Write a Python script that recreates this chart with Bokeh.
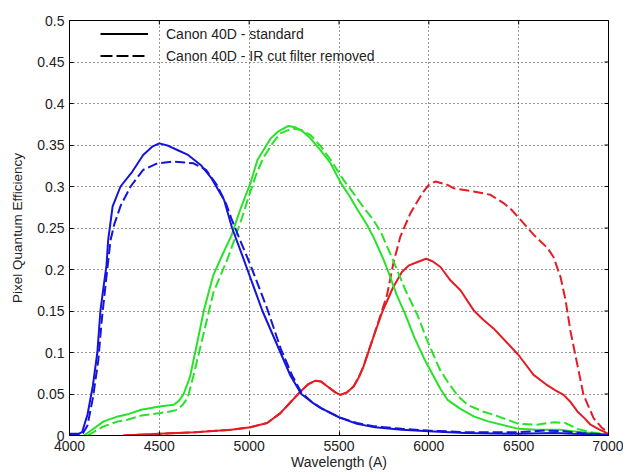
import math
from bokeh.plotting import figure
from bokeh.models import (FixedTicker, Legend, LegendItem, ColumnDataSource)
from bokeh.embed import file_html
from bokeh.resources import INLINE

# ---------------- data ----------------
x_ticks = [4000, 4500, 5000, 5500, 6000, 6500, 7000]
x_tick_labels = ["4000", "4500", "5000", "5500", "6000", "6500", "7000"]
y_ticks = [0, 0.05, 0.1, 0.15, 0.2, 0.25, 0.3, 0.35, 0.4, 0.45, 0.5]
y_tick_labels = ["0", "0.05", "0.1", "0.15", "0.2", "0.25", "0.3", "0.35", "0.4", "0.45", "0.5"]

legend_labels = ["Canon 40D - standard", "Canon 40D - IR cut filter removed"]
x_label = "Wavelength (A)"
y_label = "Pixel Quantum Efficiency"

blue_std_wl = [4000, 4050, 4070, 4100, 4130, 4155, 4172, 4190, 4206, 4215, 4240, 4284, 4350, 4410,
               4460, 4500, 4550, 4600, 4660, 4730, 4790, 4860, 4905, 4960, 4990, 5074, 5174, 5230,
               5290, 5350, 5400, 5500, 5600, 5700, 5850, 6000, 6200, 6500, 6700, 6800, 7000]
blue_std_qe = [0.002, 0.002, 0.004, 0.025, 0.06, 0.10, 0.15, 0.18, 0.205, 0.235, 0.276, 0.30, 0.318, 0.338,
               0.348, 0.352, 0.349, 0.344, 0.338, 0.326, 0.31, 0.284, 0.25, 0.218, 0.2, 0.15, 0.10, 0.072,
               0.05, 0.04, 0.033, 0.022, 0.014, 0.01, 0.007, 0.005, 0.003, 0.002, 0.003, 0.002, 0.001]

blue_ir_wl = [4000, 4070, 4100, 4130, 4160, 4180, 4200, 4228, 4250, 4285, 4340, 4410, 4490, 4580,
              4690, 4760, 4820, 4870, 4900, 4950, 5008, 5100, 5175, 5240, 5290, 5350, 5400, 5500,
              5600, 5700, 5850, 6000, 6200, 6500, 6650, 6750, 6850, 7000]
blue_ir_qe = [0.001, 0.001, 0.012, 0.045, 0.09, 0.14, 0.18, 0.235, 0.255, 0.277, 0.30, 0.32, 0.328, 0.33,
              0.328, 0.32, 0.302, 0.28, 0.262, 0.235, 0.205, 0.153, 0.105, 0.072, 0.052, 0.04, 0.033, 0.022,
              0.015, 0.011, 0.008, 0.006, 0.004, 0.004, 0.006, 0.005, 0.003, 0.001]

green_std_wl = [4080, 4120, 4190, 4270, 4330, 4400, 4500, 4580, 4610, 4635, 4670, 4712, 4746, 4800,
                4858, 4900, 4950, 5007, 5046, 5080, 5120, 5160, 5219, 5260, 5300, 5341, 5400, 5453,
                5508, 5560, 5603, 5650, 5692, 5748, 5775, 5820, 5865, 5920, 5980, 6030, 6065, 6104,
                6176, 6250, 6330, 6500, 6600, 6730, 6800, 6900, 7000]
green_std_qe = [0.0, 0.006, 0.017, 0.023, 0.026, 0.031, 0.035, 0.037, 0.042, 0.05, 0.07, 0.113, 0.149, 0.193,
                0.221, 0.24, 0.272, 0.304, 0.332, 0.344, 0.358, 0.366, 0.373, 0.371, 0.366, 0.358, 0.343, 0.328,
                0.305, 0.288, 0.272, 0.256, 0.239, 0.212, 0.197, 0.17, 0.148, 0.118, 0.09, 0.07, 0.056, 0.043,
                0.032, 0.023, 0.017, 0.008, 0.007, 0.007, 0.005, 0.003, 0.001]

green_ir_wl = [4100, 4190, 4270, 4322, 4400, 4506, 4560, 4601, 4630, 4657, 4690, 4740, 4802, 4880,
               4913, 4960, 4996, 5040, 5080, 5130, 5174, 5241, 5290, 5341, 5400, 5460, 5525, 5580,
               5636, 5690, 5731, 5803, 5870, 5937, 5990, 6026, 6060, 6104, 6160, 6215, 6300, 6360,
               6500, 6600, 6700, 6760, 6827, 6900, 7000]
green_ir_qe = [0.0, 0.011, 0.017, 0.019, 0.024, 0.027, 0.029, 0.031, 0.037, 0.045, 0.072, 0.117, 0.173, 0.213,
               0.233, 0.262, 0.287, 0.315, 0.335, 0.352, 0.364, 0.370, 0.368, 0.362, 0.348, 0.33, 0.308, 0.292,
               0.275, 0.26, 0.246, 0.21, 0.175, 0.145, 0.115, 0.097, 0.08, 0.065, 0.048, 0.037, 0.029, 0.025,
               0.014, 0.013, 0.016, 0.015, 0.008, 0.004, 0.001]

red_std_wl = [4300, 4500, 4700, 4900, 5007, 5100, 5174, 5230, 5286, 5330, 5369, 5400, 5436, 5480,
              5508, 5545, 5581, 5610, 5636, 5692, 5743, 5800, 5850, 5890, 5937, 5985, 6020, 6065,
              6120, 6176, 6249, 6300, 6360, 6430, 6499, 6583, 6650, 6700, 6750, 6790, 6827, 6870,
              6900, 6950, 7000]
red_std_qe = [0.0, 0.002, 0.004, 0.007, 0.01, 0.015, 0.027, 0.04, 0.053, 0.062, 0.066, 0.065, 0.059, 0.052,
              0.049, 0.052, 0.059, 0.07, 0.083, 0.119, 0.15, 0.178, 0.197, 0.205, 0.209, 0.213, 0.21, 0.203,
              0.187, 0.175, 0.151, 0.14, 0.129, 0.113, 0.097, 0.073, 0.062, 0.055, 0.049, 0.04, 0.029, 0.02,
              0.013, 0.007, 0.002]

red_ir_wl = [4300, 4500, 4700, 4900, 5007, 5100, 5174, 5230, 5286, 5330, 5369, 5400, 5436, 5480,
             5508, 5545, 5581, 5610, 5636, 5692, 5731, 5768, 5803, 5842, 5898, 5964, 6000, 6037,
             6104, 6137, 6249, 6343, 6416, 6460, 6510, 6583, 6660, 6694, 6733, 6761, 6789, 6827,
             6861, 6917, 6960, 7000]
red_ir_qe = [0.0, 0.002, 0.004, 0.007, 0.01, 0.015, 0.027, 0.04, 0.053, 0.062, 0.066, 0.065, 0.059, 0.052,
             0.049, 0.052, 0.059, 0.07, 0.083, 0.119, 0.145, 0.17, 0.208, 0.24, 0.268, 0.292, 0.302, 0.306,
             0.302, 0.298, 0.294, 0.29, 0.28, 0.272, 0.26, 0.242, 0.226, 0.215, 0.191, 0.163, 0.125, 0.085,
             0.049, 0.021, 0.01, 0.003]

# ---------------- figure ----------------
FONT = "Liberation Sans"
TXT = "#222222"
X_RANGE = (x_ticks[0], x_ticks[-1])
Y_RANGE = (y_ticks[0], y_ticks[-1])

p = figure(width=623, height=472, x_range=X_RANGE, y_range=Y_RANGE,
           output_backend="svg", toolbar_location=None,
           min_border_left=69, min_border_right=15, min_border_top=20, min_border_bottom=36)
p.background_fill_color = "white"
p.border_fill_color = "white"
p.outline_line_color = "black"
p.outline_line_width = 1

xt = FixedTicker(ticks=x_ticks)
yt = FixedTicker(ticks=y_ticks)

for ax in (p.xaxis[0], p.yaxis[0]):
    ax.major_tick_in = 4
    ax.major_tick_out = 0
    ax.minor_tick_line_color = None
    ax.axis_line_color = "black"
    ax.major_tick_line_color = "black"
    ax.major_label_text_font = FONT
    ax.major_label_text_font_size = "14px"
    ax.major_label_text_color = TXT
    ax.axis_label_text_font = FONT
    ax.axis_label_text_font_style = "normal"
    ax.axis_label_text_color = TXT

p.xaxis[0].ticker = xt
p.yaxis[0].ticker = yt
p.xaxis[0].major_label_overrides = dict(zip(x_ticks, x_tick_labels))
p.yaxis[0].major_label_overrides = dict(zip(y_ticks, y_tick_labels))
p.xaxis[0].axis_label = x_label
p.yaxis[0].axis_label = y_label
p.xaxis[0].axis_label_text_font_size = "14px"
p.yaxis[0].axis_label_text_font_size = "13.5px"
p.xaxis[0].major_label_standoff = 5
p.xaxis[0].axis_label_standoff = 0
p.yaxis[0].major_label_standoff = 5
p.yaxis[0].axis_label_standoff = 9

p.xgrid.ticker = xt
p.ygrid.ticker = yt
p.grid.grid_line_color = "#333333"
p.grid.grid_line_dash = "1 3"
p.grid.grid_line_width = 1

# inward tick marks on the top and right edges of the box (clipped to the frame)
p.scatter(x=x_ticks, y=[Y_RANGE[1]] * len(x_ticks), marker="dash", angle=math.pi / 2,
          size=8, line_color="black", line_width=1)
p.scatter(x=[X_RANGE[1]] * len(y_ticks), y=y_ticks, marker="dash",
          size=8, line_color="black", line_width=1)

BLUE = "#1414dc"
GREEN = "#28e228"
RED = "#e41c24"
LW = 2
DASH = "10 4"

series = [
    (red_std_wl, red_std_qe, RED, "solid"),
    (red_ir_wl, red_ir_qe, RED, DASH),
    (green_std_wl, green_std_qe, GREEN, "solid"),
    (green_ir_wl, green_ir_qe, GREEN, DASH),
    (blue_std_wl, blue_std_qe, BLUE, "solid"),
    (blue_ir_wl, blue_ir_qe, BLUE, DASH),
]
for wl, qe, col, dash in series:
    src = ColumnDataSource(dict(x=wl, y=qe))
    p.line("x", "y", source=src, line_color=col, line_width=LW, line_dash=dash)

# legend with black sample lines (renderers hold one undefined point, so they draw nothing in the plot)
nan = float("nan")
r_solid = p.line(x=[nan], y=[nan], line_color="black", line_width=2)
r_dash = p.line(x=[nan], y=[nan], line_color="black", line_width=2, line_dash="12 4")
legend = Legend(items=[LegendItem(label=legend_labels[0], renderers=[r_solid]),
                       LegendItem(label=legend_labels[1], renderers=[r_dash])],
                location=(31, 370), padding=0, margin=0, spacing=3,
                glyph_width=48, glyph_height=19, label_height=19, label_standoff=18,
                label_text_font=FONT, label_text_font_size="14px", label_text_color=TXT,
                border_line_color=None, background_fill_alpha=0)
p.add_layout(legend, "center")

open("out.html", "w").write(file_html(p, INLINE))
